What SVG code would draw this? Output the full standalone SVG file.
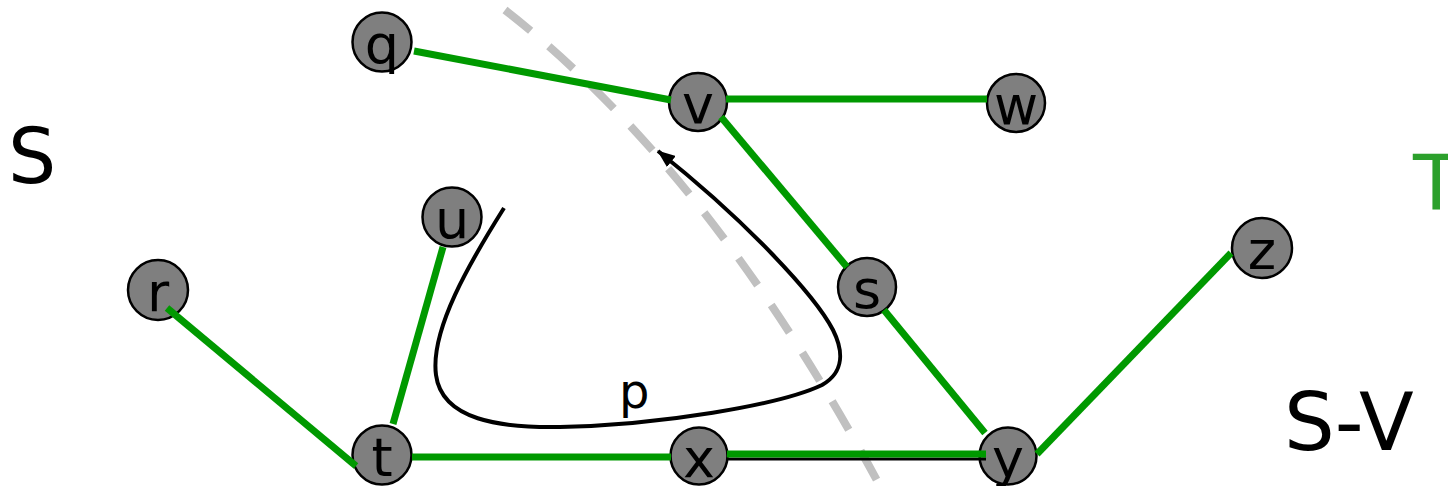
<svg xmlns="http://www.w3.org/2000/svg" width="1448" height="486" viewBox="0 0 1448 486">
<style>
.node circle{fill:#7f7f7f;stroke:#000;stroke-width:2.5}
.node text{font-family:"DejaVu Sans",sans-serif;font-size:54px;text-anchor:middle;fill:#000}
.edge{stroke:#009900;stroke-width:7;fill:none}
.lbl{font-family:"DejaVu Sans",sans-serif;fill:#000}
</style>
<defs>
<marker id="ah" markerWidth="18" markerHeight="14" refX="17" refY="7" orient="auto" markerUnits="userSpaceOnUse">
<path d="M0,0 L18,7 L0,14 Z" fill="#000"/>
</marker>
</defs>
<rect width="1448" height="486" fill="#fff"/>
<path id="cut" d="M505,10 Q710,170 880,486" fill="none" stroke="#c0c0c0" stroke-width="8" stroke-dasharray="33,24"/>
<g id="nodes">
<g id="node-q" class="node"><circle cx="382" cy="42" r="29.5"/><text x="382" y="63">q</text></g>
<g id="node-v" class="node"><circle cx="698" cy="102" r="29"/><text x="698" y="123">v</text></g>
<g id="node-w" class="node"><circle cx="1016" cy="103" r="29"/><text x="1016" y="124">w</text></g>
<g id="node-u" class="node"><circle cx="452" cy="217" r="29.5"/><text x="452" y="238">u</text></g>
<g id="node-r" class="node"><circle cx="158" cy="290" r="30"/><text x="158" y="311">r</text></g>
<g id="node-s" class="node"><circle cx="867" cy="287" r="29"/><text x="867" y="308">s</text></g>
<g id="node-z" class="node"><circle cx="1262" cy="248" r="30"/><text x="1262" y="269">z</text></g>
<g id="node-t" class="node"><circle cx="382" cy="455" r="29.5"/><text x="382" y="476">t</text></g>
<g id="node-x" class="node"><circle cx="699" cy="456" r="28.5"/><text x="699" y="477">x</text></g>
<g id="node-y" class="node"><circle cx="1008" cy="456" r="28.5"/><text x="1008" y="477">y</text></g>
</g>
<g id="connectors">
<line class="edge" x1="414" y1="51" x2="671" y2="100"/>
<line class="edge" x1="726" y1="99" x2="987" y2="99"/>
<line class="edge" x1="721" y1="117" x2="847" y2="267"/>
<line class="edge" x1="884" y1="310" x2="985" y2="433"/>
<line class="edge" x1="1037" y1="454" x2="1231" y2="253"/>
<line class="edge" x1="167" y1="308" x2="356" y2="466"/>
<line class="edge" x1="443" y1="247" x2="393" y2="424"/>
<line class="edge" x1="412" y1="457" x2="671" y2="457"/>
<line x1="727" y1="459" x2="986" y2="459" stroke="#000" stroke-width="3"/>
<line class="edge" x1="727" y1="454" x2="986" y2="454"/>
<path id="path-p" d="M504,208 C470,262 430,330 436,375 C442,420 500,428 560,427 C660,425 780,405 822,385 C845,372 843,350 833,330 C815,295 745,220 658,151" fill="none" stroke="#000" stroke-width="4" marker-end="url(#ah)"/>
</g>
<text class="lbl" x="619" y="408" font-size="48">p</text>
<text class="lbl" x="8" y="183" font-size="76">S</text>
<text class="lbl" x="1284" y="450" font-size="80">S-V</text>
<text class="lbl" x="1413" y="210" font-size="76" style="fill:#2ca02c">T</text>
</svg>
